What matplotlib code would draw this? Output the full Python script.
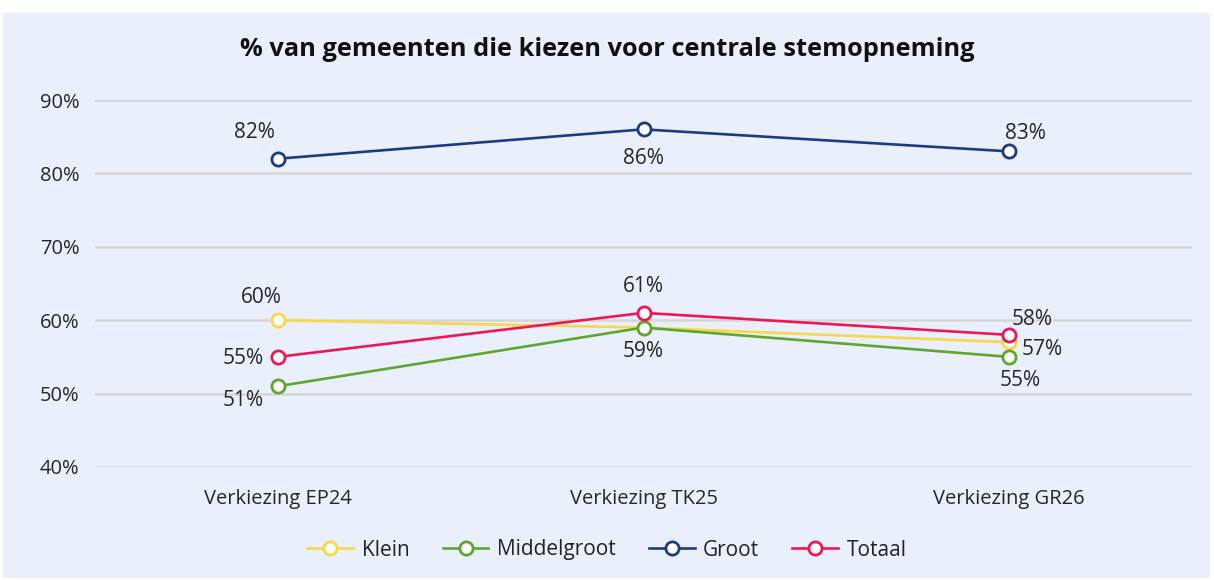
import matplotlib
matplotlib.use("Agg")
import matplotlib.pyplot as plt
from matplotlib.patches import Rectangle

categories = ["Verkiezing EP24", "Verkiezing TK25", "Verkiezing GR26"]
klein = [60, 59, 57]
middelgroot = [51, 59, 55]
groot = [82, 86, 83]
totaal = [55, 61, 58]
series_names = ["Klein", "Middelgroot", "Groot", "Totaal"]
yticks = [40, 50, 60, 70, 80, 90]

colors = {"Klein": "#F7D84A", "Middelgroot": "#5FA530", "Groot": "#1F3B80", "Totaal": "#EC1856"}
# label offsets in points (dx, dy, ha)
offsets = {
    "Klein": [(-12, 16, "center"), None, (9, -5, "left")],
    "Middelgroot": [(-25, -10, "center"), (0, -17, "center"), (8, -17, "center")],
    "Groot": [(-17, 19, "center"), (0, -21, "center"), (12, 13, "center")],
    "Totaal": [(-10, -1, "right"), (0, 19, "center"), (1.5, 11, "left")],
}

plt.rcParams["font.family"] = ["Open Sans", "DejaVu Sans"]
fig = plt.figure(figsize=(12.14, 5.80), dpi=100)
fig.patch.set_facecolor("white")
bg = Rectangle((3/1214, 2/580), 1207/1214, 565/580, transform=fig.transFigure,
               facecolor="#E9F0FC", edgecolor="none", zorder=-10)
fig.patches.append(bg)

ax = fig.add_axes([95/1214, 1-467/580, (1192-95)/1214, (467-100)/580])
ax.set_facecolor("none")
ax.set_zorder(2)
x = list(range(len(categories)))
data = {"Klein": klein, "Middelgroot": middelgroot, "Groot": groot, "Totaal": totaal}
txtcol = "#262626"
for name in series_names:
    vals = data[name]
    ax.plot(x, vals, color=colors[name], lw=1.9, marker="o", markersize=9.5,
            markerfacecolor="white", markeredgecolor=colors[name], markeredgewidth=2,
            label=name, zorder=3, clip_on=False)
    for i, v in enumerate(vals):
        off = offsets[name][i]
        if off is None:
            continue
        dx, dy, ha = off
        ax.annotate(f"{v}%", (i, v), xytext=(dx, dy), textcoords="offset points",
                    ha=ha, va="center", fontsize=15, color=txtcol)

ax.set_xlim(-0.5, 2.5)
ax.set_ylim(40, 90)
ax.set_yticks(yticks)
ax.set_yticklabels([f"{t}%" for t in yticks], fontsize=14.5, color=txtcol)
ax.set_xticks(x)
ax.set_xticklabels(categories, fontsize=14.5, color=txtcol)
ax.tick_params(length=0)
ax.tick_params(axis="y", pad=11)
ax.tick_params(axis="x", pad=16)
ax.grid(axis="y", color="#D6D6D6", lw=1.8)
ax.set_axisbelow(True)
for s in ax.spines.values():
    s.set_visible(False)

fig.text(0.5, 1-50/580, "% van gemeenten die kiezen voor centrale stemopneming",
         ha="center", va="center", fontsize=18.3, fontweight="bold", color="#111111")

leg = fig.legend(loc="center", bbox_to_anchor=(0.5, 1-550/580), ncol=4, frameon=False,
                 fontsize=15, handlelength=2.2, columnspacing=1.6, handletextpad=0.4)
for t in leg.get_texts():
    t.set_color("#222222")

fig.savefig("out.png", dpi=100)
